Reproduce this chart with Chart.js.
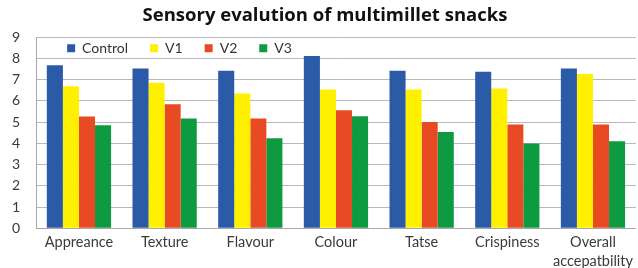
<!DOCTYPE html>
<html>
<head>
<meta charset="utf-8">
<script src="https://cdn.jsdelivr.net/npm/chart.js@4/dist/chart.umd.min.js"></script>
<style>
html,body{margin:0;padding:0;background:#fff;}
#wrap{width:638px;height:268px;position:relative;}
</style>
</head>
<body>
<div id="wrap"><canvas id="c"></canvas></div>
<script>
const categories = ["Appreance","Texture","Flavour","Colour","Tatse","Crispiness",["Overall","accepatbility"]];
const control = [7.68,7.53,7.42,8.11,7.42,7.37,7.53];
const v1 = [6.69,6.85,6.35,6.54,6.54,6.58,7.27];
const v2 = [5.26,5.84,5.17,5.56,5.01,4.89,4.89];
const v3 = [4.85,5.17,4.24,5.28,4.54,3.99,4.10];
const seriesNames = ["Control","V1","V2","V3"];
const yTicks = [0,1,2,3,4,5,6,7,8,9];

const colors = ["#2B5AA7","#FFF000","#E84B24","#0E9A40"];
const values = [control,v1,v2,v3];

const legendPlace = {
  id:'legendPlace',
  beforeLayout(chart){
    if (chart.legend) chart.legend.isHorizontal = () => true;
  },
  afterLayout(chart){
    const lg = chart.legend;
    const ca = chart.chartArea;
    const pad = lg.options.labels.padding;
    lg.maxWidth = ca.right - ca.left;
    lg.maxHeight = ca.bottom - ca.top;
    lg.fit();
    lg.left = ca.left + 9;
    lg.right = lg.left + lg.width;
    lg.top = ca.top + 4 - pad;
    lg.bottom = lg.top + lg.height;
    const tb = chart.titleBlock;
    if (tb) { tb.left += 8; tb.right += 8; }
  }
};

new Chart(document.getElementById('c'), {
  type:'bar',
  data:{
    labels:categories,
    datasets: seriesNames.map((n,i)=>({
      label:n, data:values[i], backgroundColor:colors[i], borderWidth:0,
      categoryPercentage:0.75, barPercentage:1.0
    }))
  },
  options:{
    responsive:true, maintainAspectRatio:false, animation:false,
    layout:{padding:{left:-4,right:0,top:0,bottom:-8}},
    plugins:{
      title:{display:true,text:"Sensory evalution of multimillet snacks",
        font:{family:"Open Sans",size:18.5,weight:'bold'},color:'#111',
        padding:{top:5,bottom:10}},
      legend:{position:'chartArea',align:'start',
        labels:{boxWidth:8,boxHeight:8,padding:22,color:'#333',
          font:{family:"Lato",size:14}}},
      tooltip:{enabled:false}
    },
    scales:{
      x:{
        grid:{display:false,drawTicks:false},
        border:{display:true,color:'#A8A8A8'},
        ticks:{color:'#3a3a3a',font:{family:"Lato",size:14.5,lineHeight:1.3},padding:5,maxRotation:0,autoSkip:false}
      },
      y:{
        min:0,max:9,
        afterBuildTicks(ax){ax.ticks = yTicks.map(v=>({value:v}));},
        grid:{color:'#B8B8B8',drawTicks:false},
        border:{display:true,color:'#A8A8A8'},
        ticks:{color:'#3a3a3a',font:{family:"Lato",size:14},padding:16}
      }
    }
  },
  plugins:[legendPlace]
});
</script>
</body>
</html>
